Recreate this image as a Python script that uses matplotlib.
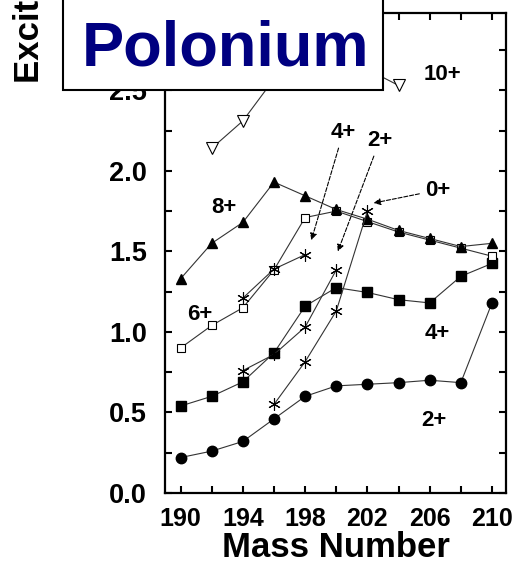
import numpy as np
import matplotlib
matplotlib.use('Agg')
import matplotlib.pyplot as plt
from matplotlib.patches import Rectangle
from matplotlib.ticker import FixedLocator, MultipleLocator, FormatStrFormatter

plt.rcParams['font.family'] = ['Liberation Sans', 'DejaVu Sans']

# yrast levels of the even polonium isotopes (MeV)
mass = [190, 192, 194, 196, 198, 200, 202, 204, 206, 208, 210]
e2 = [0.22, 0.26, 0.32, 0.46, 0.60, 0.665, 0.675, 0.685, 0.70, 0.685, 1.18]
e4 = [0.54, 0.60, 0.69, 0.87, 1.16, 1.275, 1.245, 1.20, 1.18, 1.345, 1.425]
e6 = [0.90, 1.04, 1.15, 1.385, 1.71, 1.75, 1.685, 1.62, 1.57, 1.52, 1.47]
e8 = [1.33, 1.55, 1.68, 1.93, 1.845, 1.76, 1.70, 1.63, 1.58, 1.53, 1.55]
mass10 = [192, 194, 196, 198, 200, 202, 204]
e10 = [2.14, 2.31, 2.57, 2.68, 2.70, 2.63, 2.53]

# intruder band states
mass_i0 = [196, 198, 200, 202]
ei0 = [0.55, 0.815, 1.13, 1.75]
mass_i2 = [194, 196, 198, 200]
ei2 = [0.76, 0.86, 1.03, 1.385]
mass_i4 = [194, 196, 198]
ei4 = [1.21, 1.39, 1.48]

xticks = [190, 194, 198, 202, 206, 210]

fig = plt.figure(figsize=(5.15, 5.64), dpi=100)
ax = fig.add_axes([0.3204, 0.1259, 0.6621, 0.8511])

lc = '#333333'
lw = 0.8
ax.plot(mass, e2, '-o', color=lc, lw=lw, ms=7.5, mfc='k', mec='k')
ax.plot(mass, e4, '-s', color=lc, lw=lw, ms=7, mfc='k', mec='k')
ax.plot(mass, e6, '-s', color=lc, lw=lw, ms=6, mfc='white', mec='k', mew=0.8)
ax.plot(mass, e8, '-^', color=lc, lw=lw, ms=7.5, mfc='k', mec='k')
ax.plot(mass10, e10, '-v', color=lc, lw=lw, ms=8, mfc='white', mec='k', mew=0.8)

star = (6, 2, 0)
ax.plot(mass_i0, ei0, '-', marker=star, color=lc, lw=lw, ms=9, mec='k', mew=0.8)
ax.plot(mass_i2, ei2, '-', marker=star, color=lc, lw=lw, ms=9, mec='k', mew=0.8)
ax.plot(mass_i4, ei4, '-', marker=star, color=lc, lw=lw, ms=9, mec='k', mew=0.8)

lab = dict(fontsize=16, fontweight='bold', ha='center', va='center')
ax.text(206.8, 2.60, '10+', **lab)
ax.text(192.8, 1.77, '8+', **lab)
ax.text(191.2, 1.11, '6+', **lab)
ax.text(206.5, 0.99, '4+', **lab)
ax.text(206.3, 0.45, '2+', **lab)

arr = dict(arrowstyle='-|>', color='k', lw=0.8, ls='--',
           mutation_scale=10, shrinkA=2, shrinkB=0)
ax.annotate('4+', xy=(198.4, 1.57), xytext=(200.45, 2.24), arrowprops=arr,
            **lab)
ax.annotate('2+', xy=(200.1, 1.50), xytext=(202.8, 2.19), arrowprops=arr,
            **lab)
ax.annotate('0+', xy=(202.4, 1.80), xytext=(206.5, 1.88), arrowprops=arr,
            **lab)

ax.set_xlim(189.0, 210.9)
ax.set_ylim(0, 2.98)
ax.xaxis.set_major_locator(FixedLocator(xticks))
ax.xaxis.set_minor_locator(MultipleLocator(2))
ax.yaxis.set_major_locator(MultipleLocator(0.5))
ax.yaxis.set_minor_locator(MultipleLocator(0.25))
ax.yaxis.set_major_formatter(FormatStrFormatter('%.1f'))
ax.tick_params(which='both', direction='in', top=True, right=True,
               length=5, width=1.5)
ax.tick_params(axis='x', which='major', pad=10, labelsize=18)
ax.tick_params(axis='y', which='major', pad=13, labelsize=19.5)
for t in ax.get_xticklabels() + ax.get_yticklabels():
    t.set_fontweight('bold')
for s in ax.spines.values():
    s.set_linewidth(1.6)

ax.set_xlabel('Mass Number', fontsize=25, fontweight='bold', labelpad=0)
fig.text(0.058, 0.853, 'Excitation Energy (MeV)', rotation=90,
         fontsize=25, fontweight='bold', ha='center', va='bottom')

# title box over the upper left corner
box = Rectangle((63 / 515, 1 - 90 / 564), 320 / 515, 100 / 564,
                transform=fig.transFigure, facecolor='white',
                edgecolor='black', lw=1.5, zorder=5)
fig.patches.append(box)
fig.text(225 / 515, 1 - 65 / 564, 'Polonium', color='#000080',
         fontsize=45.5, fontweight='bold', ha='center', va='baseline', zorder=6)

fig.savefig('out.png', dpi=100)
